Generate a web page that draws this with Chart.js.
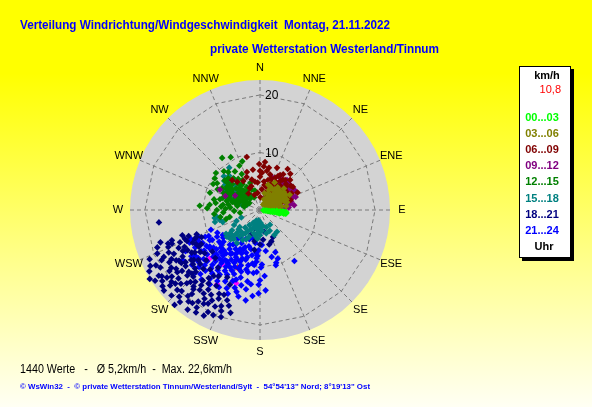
<!DOCTYPE html>
<html lang="de">
<head>
<meta charset="UTF-8">
<title>Verteilung Windrichtung/Windgeschwindigkeit</title>
<script src="https://cdn.jsdelivr.net/npm/chart.js"></script>
<style>
  html, body { margin: 0; padding: 0; background: #ffffff; }
  .wrap { position: relative; width: 592px; height: 407px; }
</style>
</head>
<body>
<div class="wrap"><canvas id="rose"></canvas></div>
<script>
// Compass directions and speed rings (km/h)
const directions = ['N', 'NNE', 'NE', 'ENE', 'E', 'ESE', 'SE', 'SSE', 'S', 'SSW', 'SW', 'WSW', 'W', 'WNW', 'NW', 'NNW'];
const ringValues = [10, 20];
const speedMax = 22.6;

// Time slots (legend) and their colours
const slotLabels = ['00...03', '03...06', '06...09', '09...12', '12...15', '15...18', '18...21', '21...24'];
const slotColors = ['#00ff00', '#808000', '#800000', '#800080', '#008000', '#008080', '#000080', '#0000ff'];

// Summary values
const valueCount = 1440;
const meanSpeed = '5,2';
const maxSpeed = '22,6';
const currentSpeed = '10,8';

// Readings per time slot: [direction in degrees, speed in km/h]
const slot00 = [[96,0.6],[97,0.9],[95,1.2],[98,1.4],[96,1.7],[99,1.9],[95,2.1],[97,2.3],[94,2.5],[98,2.6],[96,2.8],[99,3.0],[95,3.1],[97,3.3],[94,3.5],[98,3.6],[96,3.8],[95,4.0],[97,4.1],[94,4.3],[96,4.4],[98,4.5],[95,4.6],[97,3.9],[99,2.2],[93,2.9],[100,3.4],[93,4.0],[97,4.6],[99,4.2]];
const slot03 = [[20,2.0],[25,3.1],[30,4.2],[35,2.6],[40,3.6],[45,4.8],[50,2.9],[55,4.1],[60,5.2],[65,3.3],[70,4.5],[75,2.4],[80,3.8],[85,2.0],[18,4.6],[28,5.4],[38,5.0],[48,5.6],[58,4.6],[68,5.0],[42,2.1],[52,1.6],[62,2.3],[72,1.8],[33,1.5],[44,3.0],[56,3.5],[66,4.0],[78,3.0],[24,3.8],[36,4.4],[47,4.0],[53,5.2],[63,5.8],[74,4.9],[82,4.6],[30,1.1],[60,1.2],[88,3.2],[15,3.0],
  [35,3.2],[40,4.4],[45,3.8],[50,4.6],[55,3.0],[60,3.8],[65,4.6],[45,2.2],[30,2.6],[40,2.8],[55,5.0],[70,3.6],[25,4.4],[65,2.6],[50,3.4]];
const slot06 = [[346,9.5],[359,8.0],[10,6.9],[34,8.6],[3,6.5],[350,7.1],[341,7.0],[321,6.3],[317,7.1],[28,6.7],[37,6.6],[56,5.6],[60,4.6],[27,4.9],[45,7.4],[52,6.8],[40,5.5],[20,5.8],[15,4.2],[5,3.6],[355,4.8],[345,5.5],[335,4.2],[330,5.8],[325,3.5],[12,7.5],[22,7.9],[30,3.8],[48,4.8],[62,6.2],[66,5.2],[70,4.0],[42,3.2],[35,5.2],[25,2.8],[18,3.2],[8,5.0],[0,5.8],[352,3.0],[340,2.8],[2,2.2],[48,6.0],[55,7.0],[33,7.4],[16,6.4],[28,4.2],[45,2.5],[58,3.4],[65,7.2],[338,6.2],[6,8.4],[40,8.2],[72,5.6],[50,4.0],[24,5.2],
  [10,4.4],[15,5.4],[20,4.6],[25,6.2],[30,5.6],[35,6.2],[40,6.8],[45,5.0],[50,5.6],[55,4.6],[360,6.8],[5,7.6],[350,5.0],[340,4.4],[30,7.0],[45,6.4]];
const slot09 = [[64,5.2],[51,6.3],[32,6.6],[20,6.1],[45,5.8],[58,6.8],[70,5.8],[75,4.6],[80,3.8],[85,5.0],[68,3.2],[55,4.0],[40,4.5],[28,5.0],[35,3.5],[48,3.0],[62,2.5],[72,2.0],[88,2.8],[90,4.2],[78,5.5],[42,7.0],[25,3.8],[38,2.2],[52,2.0],[60,4.4],[66,6.2],[82,6.0],[30,4.2],[46,4.6],[56,5.4],[74,3.6],[86,4.0],[22,2.6],[297,7.8],[292,6.5],[300,5.0],[95,1.5],[84,1.2],[50,6.8],[36,5.8],[62,7.0],[18,4.5],[44,3.8],[70,4.8],
  [40,6.2],[50,5.2],[60,5.8],[70,6.6],[75,5.6],[80,4.8],[65,4.2],[55,6.0],[45,6.8],[85,3.4],[78,2.6],[58,3.4]];
const slot12 = [[324,11.2],[331,10.5],[274,10.5],[289,9.2],[299,9.3],[305,9.6],[272,9.2],[255,6.1],[257,5.4],[260,7.0],[265,8.0],[270,7.5],[278,6.5],[283,8.2],[290,5.5],[295,7.0],[300,4.5],[305,6.2],[310,8.0],[315,5.2],[320,7.2],[325,4.0],[330,6.0],[335,8.5],[340,5.0],[345,3.5],[280,4.0],[285,3.0],[292,2.5],[298,3.5],[303,2.2],[308,3.8],[312,3.0],[318,2.6],[322,5.5],[328,3.0],[275,5.2],[268,4.5],[262,3.5],[288,6.8],[296,8.2],[302,5.6],[307,4.8],[313,6.6],[317,9.2],[327,8.0],[333,7.0],[338,3.8],[294,4.2],[286,5.0],[279,7.8],[272,6.0],[300,7.6],[310,6.8],[320,4.4],[315,3.6],[305,3.2],[295,5.8],[285,7.2],[276,8.8],[266,6.4],[340,9.0],[310,10.0],[298,6.4],[290,4.8],[282,2.8],[320,8.6],[326,5.4],[335,2.4],[302,8.8],
  [290,6.2],[295,6.6],[300,6.0],[305,7.0],[310,7.4],[315,7.8],[320,6.0],[300,3.0],[305,4.2],[310,4.4],[315,4.6],[320,3.4],[295,2.8],[290,3.8],[285,4.4],[280,5.6],[275,6.8],[285,6.0],[325,6.6],[330,4.6],[318,5.0],[312,5.6],[307,6.0],[297,4.8],[302,6.8]];
const slot15 = [[324,9.1],[318,8.0],[312,7.2],[308,6.5],[305,5.8],[302,5.0],[300,4.3],[298,3.6],[296,3.0],[294,2.4],[310,5.0],[315,6.0],[320,7.0],[306,7.5],[300,6.8],[292,5.5],[288,4.2],[285,3.2],[316,4.0],[311,3.2],[261,7.6],[255,8.1],[260,8.0],[252,6.8],[256,7.2],[234,6.0],[240,5.2],[245,4.5],[248,3.5],[231,7.4],[230,4.6],[228,6.5],[225,5.5],[222,6.8],[220,4.0],[218,5.8],[215,3.2],[212,4.8],[210,6.0],[208,2.5],[205,3.8],[202,5.0],[200,2.0],[198,3.0],[195,4.2],[192,2.6],[190,3.4],[188,1.8],[185,4.0],[182,3.0],[178,2.2],[175,3.6],[170,2.8],[165,4.2],[160,3.2],[155,4.0],[142,4.8],[146,3.1],[150,5.0],[215,7.0],[225,7.2],
  [220,5.0],[225,6.2],[228,5.0],[232,6.6],[235,7.2],[215,5.2],[210,4.2],[205,5.6],[200,3.2],[195,2.2],[180,4.4],[185,5.0],[190,4.6],[304,6.6],[309,8.0],[313,8.6],[298,4.8],[303,3.8]];
const slot18 = [[238,22.6],[232,21.5],[263,17.7],[251,16.2],[207,19.9],[200,16.7],[216,20.0],[223,20.6],[239,15.7],[244,13.0],[235,12.7],[228,17.0],[230,18.5],[226,15.5],[233,16.2],[236,19.0],[240,18.2],[242,20.5],[245,17.5],[248,15.0],[250,19.0],[246,21.0],[241,22.0],[237,21.0],[234,20.0],[229,19.5],[225,18.0],[222,16.8],[219,18.8],[214,17.5],[211,19.0],[208,17.8],[205,18.5],[203,16.0],[210,15.2],[213,16.5],[217,14.8],[220,13.5],[224,14.2],[227,12.8],[231,13.8],[234,14.8],[237,13.5],[241,14.4],[243,16.8],[247,13.8],[252,14.2],[250,17.0],[249,11.8],[245,11.2],[240,11.8],[236,16.5],[231,15.0],[228,14.0],[226,20.0],[221,21.2],[218,20.2],[214,19.2],[212,21.0],[208,20.8],[204,20.0],[201,18.8],[198,17.5],[202,14.0],[206,13.0],[212,13.6],[216,12.4],[223,11.4],[229,11.0],[233,18.0],[239,17.0],[243,19.2],[248,17.2],[244,14.6],[238,14.0],[232,12.2],[227,16.2],[224,17.4],[219,15.8],[215,14.0],[210,17.0],[206,16.2],[200,19.8],[196,18.6],[236,22.0],[230,21.8],[247,12.0],[249,14.0],[242,12.6],[235,17.8],[220,19.5],[185,4.0],[154,5.2],[196,3.3],[174,5.2],[180,6.0],[190,5.5],[165,6.2],[200,4.5],[170,3.8],[188,7.0],[160,5.8],
  [229,16.4],[232,17.2],[235,15.8],[238,16.6],[241,17.6],[244,18.6],[247,19.4],[240,20.0],[236,20.6],[233,19.2],[230,20.4],[227,18.8],[224,19.6],[221,17.6],[218,16.6],[215,15.6],[212,18.2],[209,18.6],[216,21.4],[213,20.2],[226,21.4],[222,22.2],[245,15.6],[249,16.4],[252,18.2],[239,12.4],[242,15.2],[246,12.4],[250,13.2],[233,14.4],[228,15.2],[225,16.4],[220,18.0],[205,17.0],[202,18.0],[217,17.4],[234,21.0],[237,18.4],[243,21.4],[231,19.8]];
const slot21 = [[244,10.6],[245,13.5],[177,6.1],[189,15.9],[160,9.0],[163,9.6],[146,10.7],[180,12.2],[181,14.5],[164,10.0],[215,10.6],[210,10.0],[205,9.5],[200,9.0],[195,8.5],[190,8.0],[185,7.5],[220,11.0],[225,11.5],[230,12.0],[235,12.5],[240,11.5],[238,9.8],[232,9.0],[228,10.2],[222,9.4],[218,8.6],[212,8.0],[207,7.6],[202,7.0],[197,6.6],[192,9.8],[197,11.2],[202,12.0],[207,12.6],[212,13.2],[217,13.8],[222,14.2],[227,14.5],[232,13.6],[236,14.4],[240,13.0],[243,12.0],[246,11.6],[248,9.2],[242,8.4],[236,7.8],[230,7.2],[224,6.8],[218,6.4],[212,6.0],[206,5.6],[200,5.4],[194,5.0],[188,5.8],[184,9.0],[186,11.0],[190,12.6],[194,13.5],[198,14.2],[203,14.8],[208,15.2],[214,15.6],[220,15.8],[226,16.0],[211,11.5],[216,12.2],[221,12.6],[226,12.8],[214,9.2],[219,10.2],[224,10.8],[209,8.8],[204,10.8],[199,10.2],[229,8.4],[234,10.8],[239,10.2],[213,10.6],[208,11.2],[217,11.0],[206,13.8],[201,13.2],[196,12.2],[191,11.0],[187,13.0],[183,8.0],[178,9.5],[176,11.5],[172,7.2],[181,13.0],[166,8.4],[160,7.8],[176,14.0],[185,15.0],[194,15.5],[231,15.2],[237,16.0],[241,14.8],[233,11.0],[226,9.4],[221,8.0],[215,7.2],[209,6.6],[203,8.2],[198,7.8],[193,7.0],[247,13.0],
  [196,9.0],[201,9.6],[206,10.2],[211,10.8],[216,11.4],[221,11.8],[226,11.0],[231,10.4],[236,11.2],[241,12.2],[205,11.6],[210,12.2],[215,12.8],[220,13.2],[225,13.6],[230,14.0],[235,13.8],[199,12.8],[193,10.6],[188,9.4],[203,7.4],[208,8.2],[213,9.0],[218,9.6],[223,10.0],[228,9.0],[233,8.0],[238,8.8],[243,10.0],[196,14.8],[201,15.6],[211,14.4],[216,14.8],[223,15.2],[229,13.0],[234,12.0],[218,7.6],[207,9.2],[200,10.8],[190,14.0],[182,7.0],[184,8.4],[179,10.0],[183,10.8],[186,9.6]];
const slotData = [slot00, slot03, slot06, slot09, slot12, slot15, slot18, slot21];

// Highlighted readings (magenta) and the latest reading (red)
const highlighted = [[210,14.9],[198,13.4],[226,12.2],[215,11.5]];
const latest = [[201,10.8]];

const FONT = "'Liberation Sans', Arial, sans-serif";

// polar reading -> cartesian point for the x/y scales (north up, clockwise)
function toXY(pairs) {
  return pairs.map(([dir, speed]) => {
    const a = dir * Math.PI / 180;
    return { x: speed * Math.sin(a), y: speed * Math.cos(a) };
  });
}

function makeDataset(label, pairs, color) {
  return {
    label: label,
    data: toXY(pairs),
    pointStyle: 'rectRot',
    pointRadius: 3.3,
    pointBorderWidth: 0,
    backgroundColor: color,
    borderColor: color
  };
}

const datasets = slotData.map((d, i) => makeDataset(slotLabels[i], d, slotColors[i]));
datasets.push(makeDataset('Markiert', highlighted, '#ff00ff'));
datasets.push(makeDataset('Aktuell', latest, '#ff0000'));

// Background, titles, legend box and footer
const framePlugin = {
  id: 'frame',
  beforeDraw(chart) {
    const ctx = chart.ctx;
    const w = chart.width, h = chart.height;
    ctx.save();
    const g = ctx.createLinearGradient(0, 0, 0, h);
    g.addColorStop(0, '#ffff00');
    g.addColorStop(0.18, '#ffff00');
    g.addColorStop(0.6, '#ffff80');
    g.addColorStop(1, '#fffff4');
    ctx.fillStyle = g;
    ctx.fillRect(0, 0, w, h);

    ctx.fillStyle = '#0000ff';
    ctx.font = 'bold 13px ' + FONT;
    ctx.textBaseline = 'middle';
    ctx.textAlign = 'left';
    ctx.fillText('Verteilung Windrichtung/Windgeschwindigkeit  Montag, 21.11.2022', 20, 25, 370);
    ctx.fillText('private Wetterstation Westerland/Tinnum', 210, 49, 229);

    // legend box with shadow
    const bx = 519, by = 66, bw = 52, bh = 192;
    ctx.fillStyle = '#000000';
    ctx.fillRect(bx + 3, by + 3, bw, bh);
    ctx.fillStyle = '#ffffff';
    ctx.fillRect(bx, by, bw, bh);
    ctx.strokeStyle = '#000000';
    ctx.lineWidth = 1;
    ctx.strokeRect(bx + 0.5, by + 0.5, bw - 1, bh - 1);

    ctx.textAlign = 'center';
    ctx.fillStyle = '#000000';
    ctx.font = 'bold 11px ' + FONT;
    ctx.fillText('km/h', 547, 76);
    ctx.fillStyle = '#ff0000';
    ctx.font = '11px ' + FONT;
    ctx.textAlign = 'right';
    ctx.fillText(currentSpeed, 561, 90);
    ctx.textAlign = 'center';
    ctx.font = 'bold 11px ' + FONT;
    slotLabels.forEach((lab, i) => {
      ctx.fillStyle = slotColors[i];
      ctx.fillText(lab, 542, 118 + i * 16.1);
    });
    ctx.fillStyle = '#000000';
    ctx.fillText('Uhr', 544, 247);

    // footer
    ctx.textAlign = 'left';
    ctx.fillStyle = '#000000';
    ctx.font = '12px ' + FONT;
    ctx.fillText(valueCount + ' Werte   -   \u00d8 ' + meanSpeed + 'km/h  -  Max. ' + maxSpeed + 'km/h', 20, 370, 212);
    ctx.fillStyle = '#0000ff';
    ctx.font = 'bold 8px ' + FONT;
    ctx.fillText('\u00a9 WsWin32  -  \u00a9 private Wetterstation Tinnum/Westerland/Sylt  -  54\u00b054\'13" Nord; 8\u00b019\'13" Ost', 20, 387, 350);
    ctx.restore();
  },
  // polar grid drawn from the x/y scales
  beforeDatasetsDraw(chart) {
    const ctx = chart.ctx;
    const sx = chart.scales.x, sy = chart.scales.y;
    const cx = sx.getPixelForValue(0), cy = sy.getPixelForValue(0);
    const rad = v => sx.getPixelForValue(v) - cx;
    const R = rad(speedMax);
    ctx.save();
    ctx.fillStyle = '#d3d3d3';
    ctx.beginPath();
    ctx.arc(cx, cy, R, 0, Math.PI * 2);
    ctx.fill();

    ctx.strokeStyle = '#7a7a7a';
    ctx.lineWidth = 1;
    ctx.setLineDash([4, 3]);
    directions.forEach((d, i) => {
      const a = i * Math.PI / 8;
      ctx.beginPath();
      ctx.moveTo(cx, cy);
      ctx.lineTo(cx + R * Math.sin(a), cy - R * Math.cos(a));
      ctx.stroke();
    });
    ringValues.forEach(v => {
      const r = rad(v);
      ctx.beginPath();
      for (let i = 0; i <= 16; i++) {
        const a = i * Math.PI / 8;
        const px = cx + r * Math.sin(a), py = cy - r * Math.cos(a);
        if (i === 0) ctx.moveTo(px, py); else ctx.lineTo(px, py);
      }
      ctx.stroke();
    });
    ctx.setLineDash([]);

    ctx.fillStyle = '#000000';
    ctx.font = '12px ' + FONT;
    ctx.textAlign = 'left';
    ctx.textBaseline = 'middle';
    ringValues.forEach(v => ctx.fillText(String(v), cx + 5, cy - rad(v) + 1));

    ctx.font = '11px ' + FONT;
    ctx.textAlign = 'center';
    directions.forEach((d, i) => {
      const a = i * Math.PI / 8;
      const lr = R + 12;
      ctx.fillText(d, cx + lr * Math.sin(a), cy - lr * Math.cos(a));
    });
    ctx.restore();
  }
};

new Chart(document.getElementById('rose'), {
  type: 'scatter',
  data: { datasets: datasets },
  options: {
    responsive: true,
    maintainAspectRatio: false,
    animation: false,
    events: [],
    layout: { padding: { left: 130, right: 202, top: 80, bottom: 67 } },
    scales: {
      x: { type: 'linear', min: -speedMax, max: speedMax, display: false },
      y: { type: 'linear', min: -speedMax, max: speedMax, display: false }
    },
    plugins: {
      legend: { display: false },
      tooltip: { enabled: false },
      title: { display: false }
    }
  },
  plugins: [framePlugin]
});
</script>
</body>
</html>
